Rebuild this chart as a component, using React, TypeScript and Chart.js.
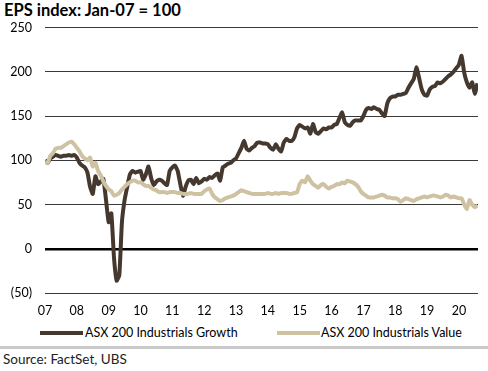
import React, { useEffect, useRef } from "react";
import { Chart, registerables } from "chart.js";

Chart.register(...registerables);

const START_YEAR = 2007;
const END_X = 2020.6;
const FONT = "Lato, 'Open Sans', sans-serif";
const BROWN = "#45382f";
const BEIGE = "#cfc2a2";

const seriesNames = ["ASX 200 Industrials Growth", "ASX 200 Industrials Value"];
const yTicks = [-50, 0, 50, 100, 150, 200, 250];

// Monthly EPS index, Jan-07 .. Aug-20
const growth = [
  100, 97, 102, 104, 106, 105, 104, 105, 105, 106, 105, 106,
  103, 97, 94, 92, 86, 70, 62, 82, 73, 76, 79, 55,
  30, 40, -10, -36, -30, 30, 55, 70, 84, 88, 86, 87,
  88, 78, 84, 93, 80, 72, 76, 78, 77, 74, 72, 88,
  92, 94, 88, 73, 60, 70, 77, 78, 73, 80, 74, 76,
  79, 78, 81, 80, 83, 85, 77, 92, 94, 96, 97, 100,
  102, 108, 114, 122, 113, 111, 114, 116, 120, 120, 119, 119,
  118, 114, 112, 118, 113, 110, 120, 124, 122, 122, 126, 136,
  140, 138, 136, 137, 130, 141, 132, 130, 133, 136, 135, 137,
  137, 140, 141, 148, 154, 143, 140, 139, 143, 145, 145, 145,
  150, 157, 159, 158, 160, 158, 157, 153, 150, 164, 170, 172,
  172, 174, 174, 175, 176, 182, 187, 192, 205, 193, 180, 174,
  173, 180, 183, 184, 188, 187, 189, 192, 195, 197, 200, 204,
  208, 218, 199, 188, 182, 188, 175, 187,
];

const value = [
  98, 97, 105, 108, 113, 114, 114, 116, 118, 120, 121, 118,
  114, 110, 105, 102, 100, 103, 93, 97, 88, 83, 76, 71,
  67, 65, 60, 61, 63, 67, 70, 73, 75, 77, 77, 75,
  75, 73, 71, 71, 69, 67, 66, 64, 64, 64, 63, 64,
  64, 64, 63, 63, 62, 62, 62, 63, 62, 62, 62, 62,
  65, 67, 68, 62, 58, 56, 54, 55, 57, 58, 59, 60,
  62, 64, 66, 65, 64, 63, 62, 62, 62, 62, 62, 62,
  63, 62, 62, 63, 62, 63, 63, 63, 62, 62, 63, 64,
  73, 77, 75, 82, 77, 73, 71, 69, 72, 73, 70, 68,
  70, 71, 73, 73, 75, 74, 77, 76, 75, 73, 70, 65,
  62, 60, 58, 58, 58, 59, 60, 61, 60, 58, 58, 57,
  57, 56, 53, 55, 57, 56, 55, 54, 56, 57, 58, 59,
  58, 59, 60, 60, 59, 58, 59, 61, 60, 58, 59, 58,
  57, 57, 50, 45, 55, 50, 47, 49,
];

const seriesColors = [BROWN, BEIGE];

const toPoints = (arr: number[]) => arr.map((v, i) => ({ x: START_YEAR + i / 12, y: v }));

export default function App() {
  const ref = useRef<HTMLCanvasElement>(null);

  useEffect(() => {
    if (!ref.current) return;
    const chart = new Chart(ref.current, {
      type: "line",
      data: {
        datasets: [
          {
            label: seriesNames[0],
            data: toPoints(growth),
            borderColor: BROWN,
            backgroundColor: BROWN,
            borderWidth: 4,
            pointRadius: 0,
            tension: 0.15,
            order: 1,
          },
          {
            label: seriesNames[1],
            data: toPoints(value),
            borderColor: BEIGE,
            backgroundColor: BEIGE,
            borderWidth: 4,
            pointRadius: 0,
            tension: 0.15,
            order: 0,
          },
        ],
      },
      options: {
        animation: false,
        responsive: false,
        devicePixelRatio: 1,
        layout: { padding: { left: 0, right: 10, top: 9, bottom: 0 } },
        scales: {
          x: {
            type: "linear",
            min: START_YEAR,
            max: END_X,
            afterFit: (s: any) => {
              s.height = 25;
            },
            grid: { display: false, drawTicks: false },
            border: { display: false },
            ticks: {
              stepSize: 1,
              includeBounds: false,
              autoSkip: false,
              maxRotation: 0,
              padding: 10,
              color: "#000",
              font: { family: FONT, size: 12.5 },
              callback: (v: any) => String(Math.round(Number(v)) % 100).padStart(2, "0"),
            },
          },
          y: {
            min: yTicks[0],
            max: yTicks[yTicks.length - 1],
            afterFit: (s: any) => {
              s.width = 45;
            },
            afterBuildTicks: (s: any) => {
              s.ticks = yTicks.map((v) => ({ value: v }));
            },
            grid: {
              drawTicks: false,
              color: (ctx: any) => (ctx.tick && ctx.tick.value === 0 ? "#000" : "#3a3a3a"),
              lineWidth: (ctx: any) => (ctx.tick && ctx.tick.value === 0 ? 2.5 : 1),
            },
            border: { display: false },
            ticks: {
              padding: 13,
              color: "#000",
              font: { family: FONT, size: 12.5 },
              callback: (v: any) => (Number(v) < 0 ? `(${-Number(v)})` : `${v}`),
            },
          },
        },
        plugins: {
          tooltip: { enabled: false },
          legend: { display: false },
        },
      },
    });
    return () => chart.destroy();
  }, []);

  const legendPos = [
    { bar: 40, text: 85 },
    { bar: 277, text: 321 },
  ];

  return (
    <div
      style={{
        position: "fixed",
        left: 0,
        top: 0,
        width: 488,
        height: 371,
        background: "#fff",
        overflow: "hidden",
        fontFamily: FONT,
      }}
    >
      <div
        style={{
          position: "absolute",
          left: 4,
          top: 0,
          fontWeight: 700,
          fontSize: 16.5,
          color: "#000",
          whiteSpace: "nowrap",
        }}
      >
        EPS index: Jan-07 = 100
      </div>
      <canvas
        ref={ref}
        width={488}
        height={311}
        style={{ position: "absolute", left: 0, top: 7, width: 488, height: 311 }}
      />
      {seriesNames.map((name, i) => (
        <React.Fragment key={name}>
          <div
            style={{
              position: "absolute",
              left: legendPos[i].bar,
              top: 331,
              width: 43,
              height: 4,
              background: seriesColors[i],
            }}
          />
          <div
            style={{
              position: "absolute",
              left: legendPos[i].text,
              top: 324,
              fontSize: 12.5,
              lineHeight: "18px",
              color: "#000",
              whiteSpace: "nowrap",
            }}
          >
            {name}
          </div>
        </React.Fragment>
      ))}
      <div
        style={{
          position: "absolute",
          left: 0,
          top: 346,
          width: 488,
          height: 3,
          background: "#c9c9c9",
        }}
      />
      <div
        style={{
          position: "absolute",
          left: 3,
          top: 351,
          fontSize: 13.5,
          color: "#222",
          whiteSpace: "nowrap",
        }}
      >
        Source: FactSet, UBS
      </div>
    </div>
  );
}
